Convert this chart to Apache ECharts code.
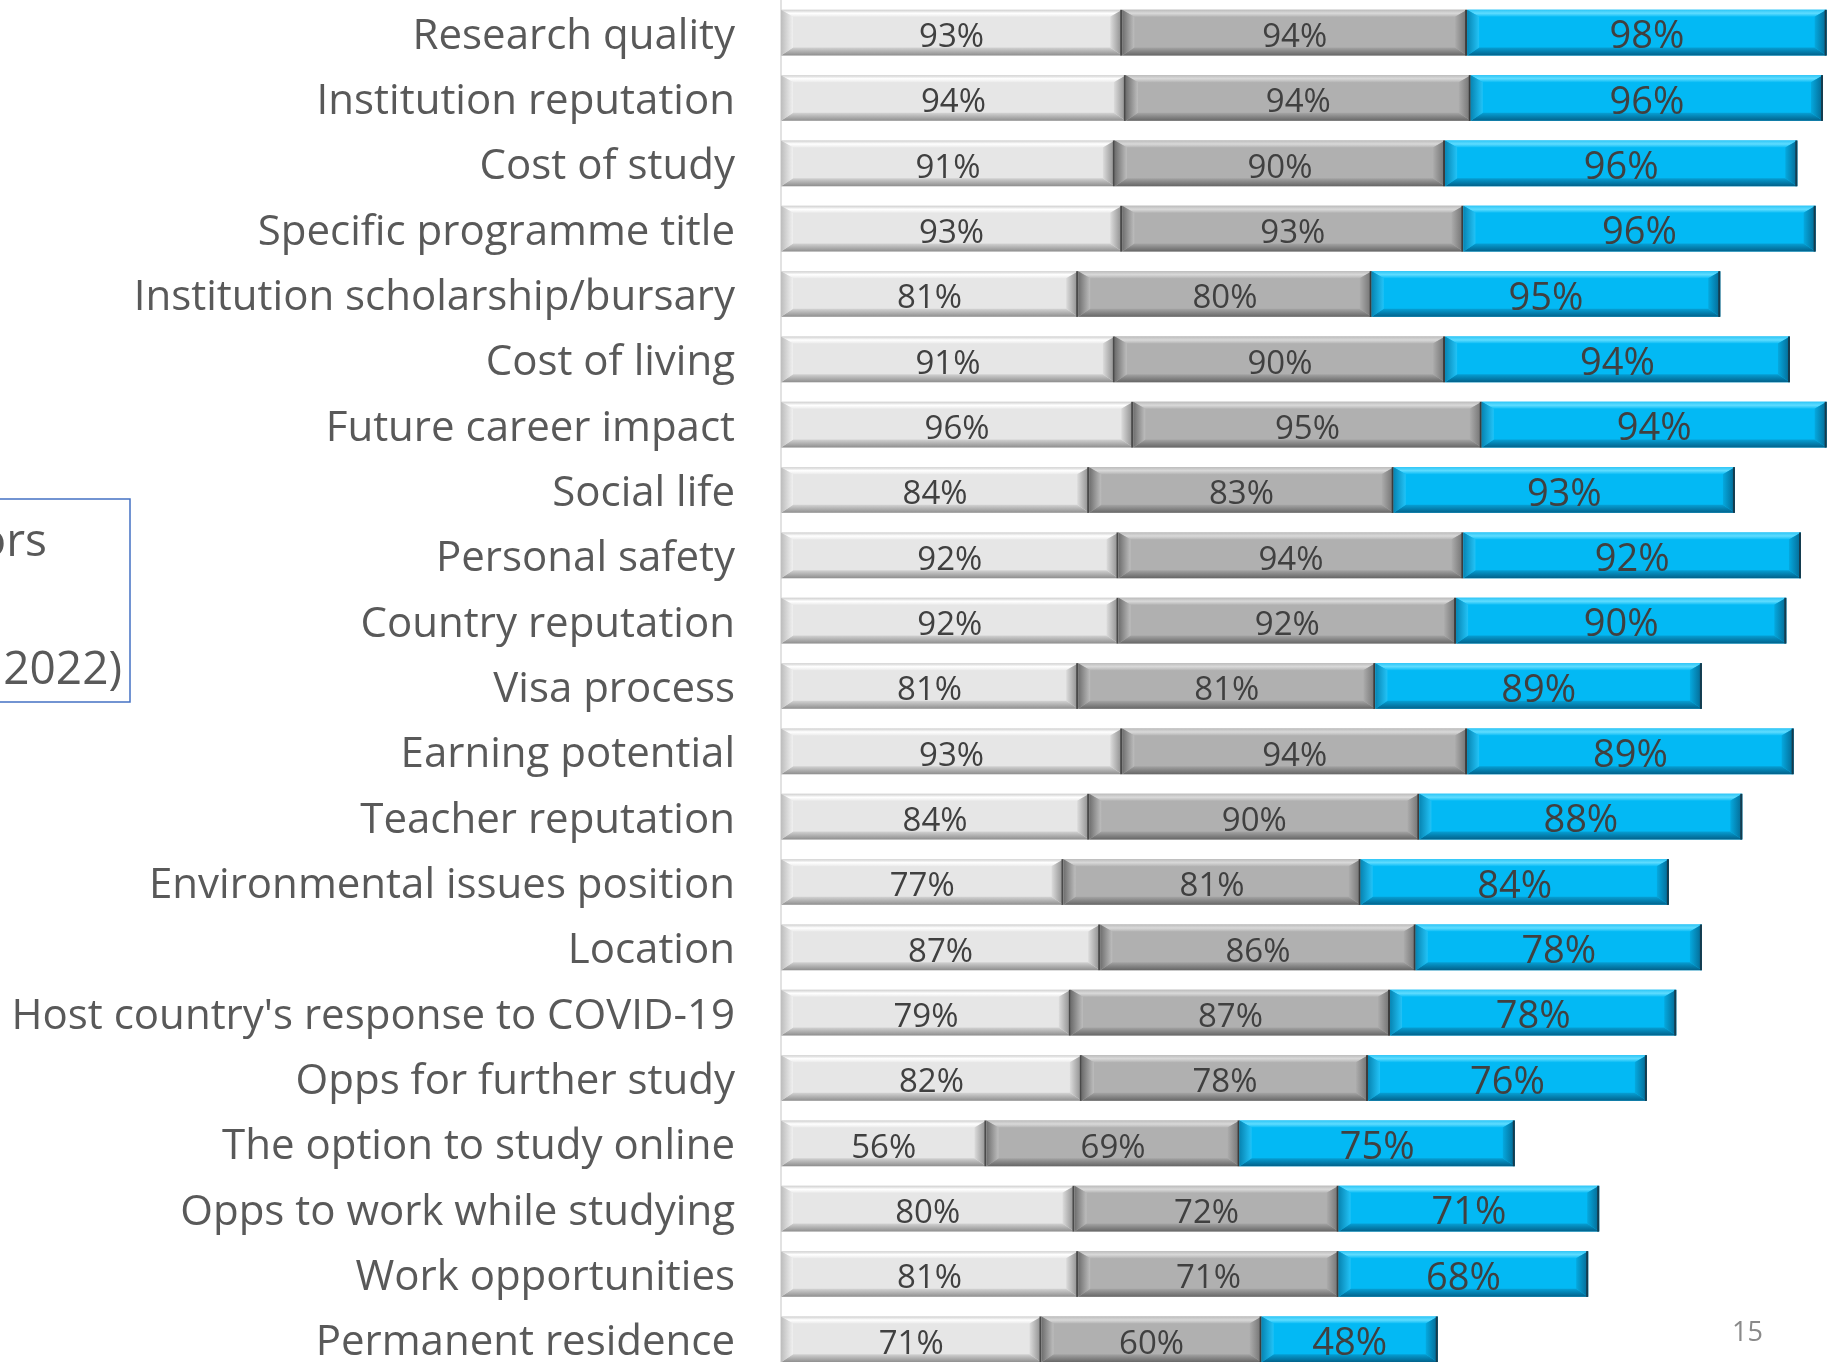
<!DOCTYPE html>
<html>
<head>
<meta charset="utf-8">
<script src="https://cdn.jsdelivr.net/npm/echarts@6/dist/echarts.min.js"></script>
<style>
  html, body { margin: 0; padding: 0; background: #ffffff; overflow: hidden; }
  #chart { width: 1845px; height: 1372px; }
</style>
</head>
<body>
<div id="chart"></div>
<script>
const categories = [
  "Research quality",
  "Institution reputation",
  "Cost of study",
  "Specific programme title",
  "Institution scholarship/bursary",
  "Cost of living",
  "Future career impact",
  "Social life",
  "Personal safety",
  "Country reputation",
  "Visa process",
  "Earning potential",
  "Teacher reputation",
  "Environmental issues position",
  "Location",
  "Host country's response to COVID-19",
  "Opps for further study",
  "The option to study online",
  "Opps to work while studying",
  "Work opportunities",
  "Permanent residence"
];

// stacked left to right: light grey, mid grey, blue
const lightValues = [93, 94, 91, 93, 81, 91, 96, 84, 92, 92, 81, 93, 84, 77, 87, 79, 82, 56, 80, 81, 71];
const greyValues  = [94, 94, 90, 93, 80, 90, 95, 83, 94, 92, 81, 94, 90, 81, 86, 87, 78, 69, 72, 71, 60];
const blueValues  = [98, 96, 96, 96, 95, 94, 94, 93, 92, 90, 89, 89, 88, 84, 78, 78, 76, 75, 71, 68, 48];

const boxLines = ["ors", "2022)"];
const pageNumber = "15";

const FONT = "'Open Sans', 'Noto Sans', sans-serif";

// bevel colours per segment
const looks = {
  light: {
    face: "#e6e6e6", top: ["#cfcfcf", "#ffffff", "#ebebeb"], bottom: ["#d2d2d2", "#8e8e8e"],
    left: ["#bdbdbd", "#f0f0f0"], right: ["#dcdcdc", "#8a8a8a"], edge: "#4a4a4a", fontSize: 33
  },
  grey: {
    face: "#b0b0b0", top: ["#bcbcbc", "#d9d9d9", "#b6b6b6"], bottom: ["#a4a4a4", "#666666"],
    left: ["#6e6e6e", "#bdbdbd"], right: ["#acacac", "#707070"], edge: "#3c3c3c", fontSize: 33
  },
  blue: {
    face: "#03b9f4", top: ["#2ec6f7", "#5fdcff", "#0cbdf6"], bottom: ["#069fd4", "#02618a"],
    left: ["#0785b3", "#22c3f7"], right: ["#05a9df", "#046791"], edge: "#153c4e", fontSize: 38
  }
};

function vGrad(stops) {
  return {
    type: "linear", x: 0, y: 0, x2: 0, y2: 1,
    colorStops: stops.map((c, i) => ({ offset: i / (stops.length - 1), color: c }))
  };
}
function hGrad(a, b) {
  return {
    type: "linear", x: 0, y: 0, x2: 1, y2: 0,
    colorStops: [{ offset: 0, color: a }, { offset: 1, color: b }]
  };
}

function makeSeries(name, values, offsets, look) {
  return {
    name: name,
    type: "custom",
    encode: { x: [0, 1], y: 2 },
    data: values.map((v, i) => [offsets[i], offsets[i] + v, i, v]),
    renderItem: (params, api) => {
      const p0 = api.coord([api.value(0), api.value(2)]);
      const p1 = api.coord([api.value(1), api.value(2)]);
      const h = api.size([0, 1])[1] * 0.7;
      const x0 = p0[0], x1 = p1[0], y0 = p0[1] - h / 2, y1 = p0[1] + h / 2;
      const b = 12, bt = 7, bb = 8;
      return {
        type: "group",
        children: [
          { type: "rect", shape: { x: x0, y: y0, width: x1 - x0, height: h }, style: { fill: look.face } },
          { type: "polygon", shape: { points: [[x0, y0], [x1, y0], [x1 - b, y0 + bt], [x0 + b, y0 + bt]] },
            style: { fill: vGrad(look.top) } },
          { type: "polygon", shape: { points: [[x0, y1], [x1, y1], [x1 - b, y1 - bb], [x0 + b, y1 - bb]] },
            style: { fill: vGrad(look.bottom) } },
          { type: "polygon", shape: { points: [[x0, y0], [x0 + b, y0 + bt], [x0 + b, y1 - bb], [x0, y1]] },
            style: { fill: hGrad(look.left[0], look.left[1]) } },
          { type: "polygon", shape: { points: [[x1, y0], [x1 - b, y0 + bt], [x1 - b, y1 - bb], [x1, y1]] },
            style: { fill: hGrad(look.right[0], look.right[1]) } },
          { type: "line", shape: { x1: x1 - 1, y1: y0, x2: x1 - 1, y2: y1 },
            style: { stroke: look.edge, lineWidth: 2 } },
          { type: "text",
            style: {
              text: api.value(3) + "%", x: (x0 + x1) / 2, y: p0[1] + 5,
              align: "center", verticalAlign: "middle",
              fill: "#404040", fontFamily: FONT, fontSize: look.fontSize
            } }
        ]
      };
    }
  };
}

const lightStart = lightValues.map(() => 0);
const greyStart = lightValues.slice();
const blueStart = lightValues.map((v, i) => v + greyValues[i]);

const chart = echarts.init(document.getElementById("chart"));

const option = {
  animation: false,
  grid: { left: 781, right: 0, top: 0, bottom: 0 },
  xAxis: {
    type: "value", min: 0, max: 290,
    show: false
  },
  yAxis: {
    type: "category",
    inverse: true,
    data: categories,
    axisLine: { show: true, lineStyle: { color: "#d9d9d9", width: 1.5 } },
    axisTick: { show: false },
    axisLabel: {
      color: "#595959", fontFamily: FONT, fontSize: 42, margin: 46,
      verticalAlign: "top", lineHeight: 8
    }
  },
  series: [
    makeSeries("Light", lightValues, lightStart, looks.light),
    makeSeries("Grey", greyValues, greyStart, looks.grey),
    makeSeries("Blue", blueValues, blueStart, looks.blue)
  ],
  graphic: [
    { type: "rect", shape: { x: -10, y: 499, width: 140, height: 203 },
      style: { fill: "none", stroke: "#4472c4", lineWidth: 1.5 } },
    { type: "text", x: 47, y: 543,
      style: { text: boxLines[0], align: "right", verticalAlign: "middle", fill: "#595959", fontFamily: FONT, fontSize: 46 } },
    { type: "text", x: 122, y: 671,
      style: { text: boxLines[1], align: "right", verticalAlign: "middle", fill: "#595959", fontFamily: FONT, fontSize: 46 } },
    { type: "text", x: 1763, y: 1333,
      style: { text: pageNumber, align: "right", verticalAlign: "middle", fill: "#8a8a8a", fontFamily: FONT, fontSize: 27 } }
  ]
};

chart.setOption(option);
window.addEventListener("resize", () => chart.resize());
</script>
</body>
</html>
